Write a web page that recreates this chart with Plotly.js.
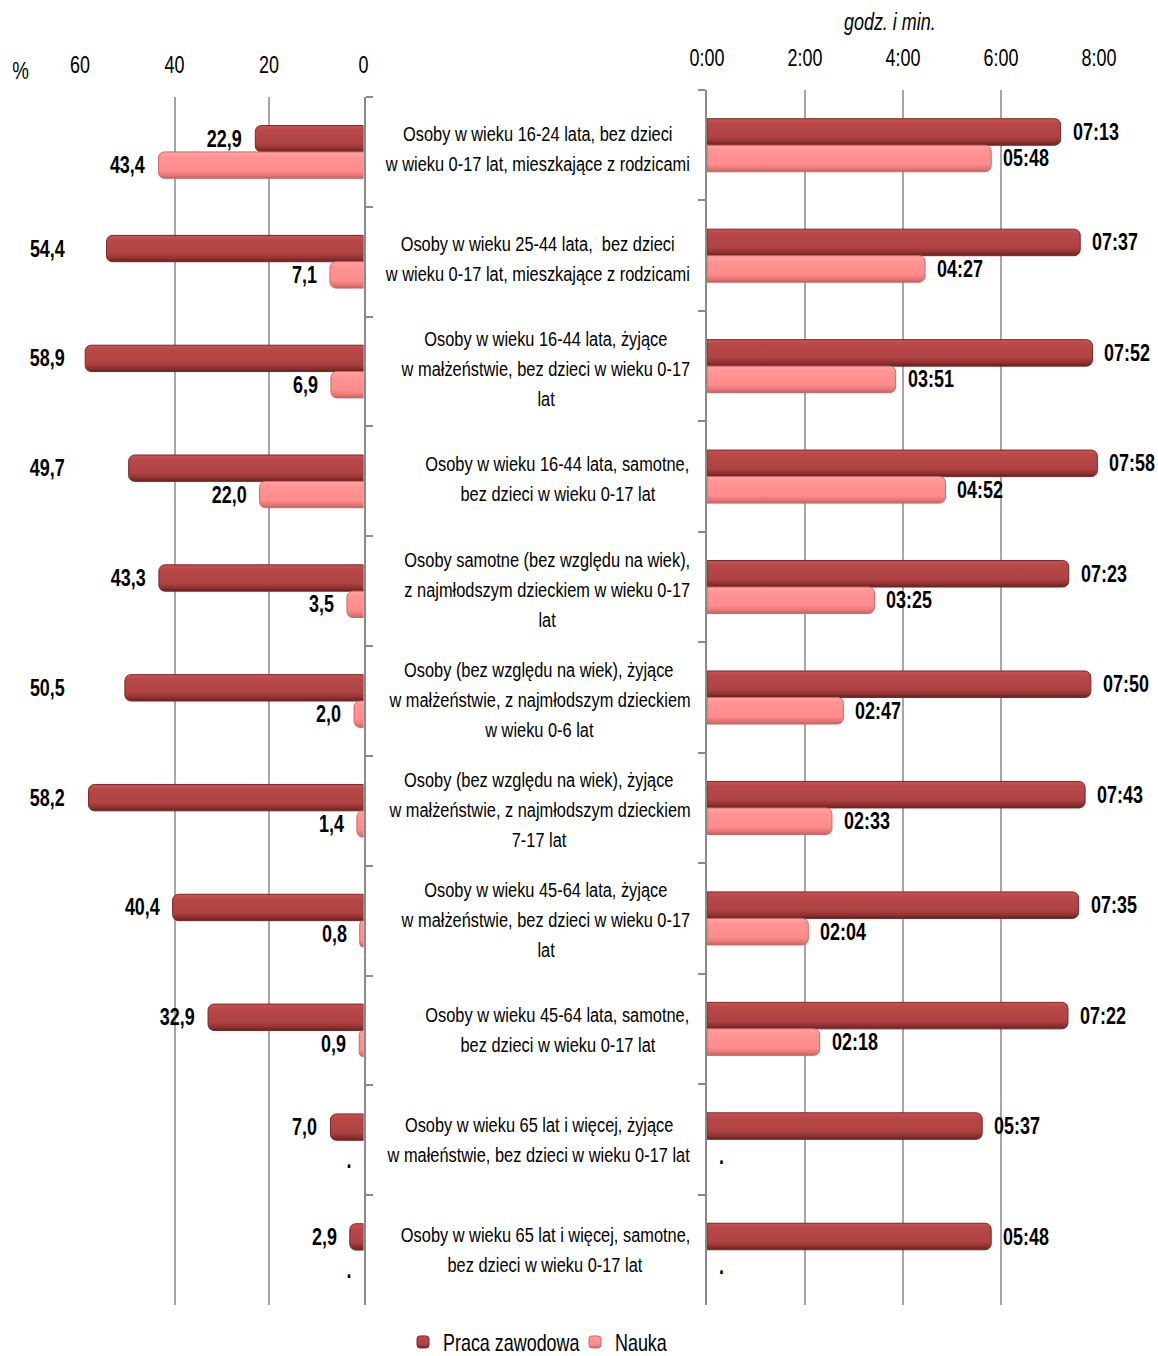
<!DOCTYPE html>
<html>
<head>
<meta charset="utf-8">
<script src="https://cdn.plot.ly/plotly-3.0.1.min.js"></script>
<style>
  html, body { margin: 0; padding: 0; background: #fff; }
  #chart { width: 1158px; height: 1356px; }
</style>
</head>
<body>
<div id="chart"></div>
<script>
// ---------- DATA ----------
const categories = [
  "Osoby w wieku 16-24 lata, bez dzieci\nw wieku 0-17 lat, mieszkające z rodzicami",
  "Osoby w wieku 25-44 lata,  bez dzieci\nw wieku 0-17 lat, mieszkające z rodzicami",
  "Osoby w wieku 16-44 lata, żyjące\nw małżeństwie, bez dzieci w wieku 0-17\nlat",
  "Osoby w wieku 16-44 lata, samotne,\nbez dzieci w wieku 0-17 lat",
  "Osoby samotne (bez względu na wiek),\nz najmłodszym dzieckiem w wieku 0-17\nlat",
  "Osoby (bez względu na wiek), żyjące\nw małżeństwie, z najmłodszym dzieckiem\nw wieku 0-6 lat",
  "Osoby (bez względu na wiek), żyjące\nw małżeństwie, z najmłodszym dzieckiem\n7-17 lat",
  "Osoby w wieku 45-64 lata, żyjące\nw małżeństwie, bez dzieci w wieku 0-17\nlat",
  "Osoby w wieku 45-64 lata, samotne,\nbez dzieci w wieku 0-17 lat",
  "Osoby w wieku 65 lat i więcej, żyjące\nw małeństwie, bez dzieci w wieku 0-17 lat",
  "Osoby w wieku 65 lat i więcej, samotne,\nbez dzieci w wieku 0-17 lat"
];
const seriesNames = ["Praca zawodowa", "Nauka"];
const pracaPct = [22.9, 54.4, 58.9, 49.7, 43.3, 50.5, 58.2, 40.4, 32.9, 7.0, 2.9];
const naukaPct = [43.4, 7.1, 6.9, 22.0, 3.5, 2.0, 1.4, 0.8, 0.9, null, null];
const pracaTime = ["07:13", "07:37", "07:52", "07:58", "07:23", "07:50", "07:43", "07:35", "07:22", "05:37", "05:48"];
const naukaTime = ["05:48", "04:27", "03:51", "04:52", "03:25", "02:47", "02:33", "02:04", "02:18", null, null];
const pctTickVals = [60, 40, 20, 0];
const timeTickVals = [0, 120, 240, 360, 480];
const timeTickText = ["0:00", "2:00", "4:00", "6:00", "8:00"];

// ---------- HELPERS ----------
const W = 1158, H = 1356;
const FONT = '"Liberation Sans", Arial, sans-serif';
const SX = 0.78; // horizontal text compression (condensed look of the original)
const toMin = s => { if (s == null) return null; const p = s.split(":"); return (+p[0]) * 60 + (+p[1]); };
const fmtPct = v => v.toFixed(1).replace(".", ",");
const px = x => x / W;
const py = y => 1 - y / H;

const pracaMin = pracaTime.map(toMin);
const naukaMin = naukaTime.map(toMin);
const yCats = categories.map((c, i) => "c" + i);

const DARK = "#B24444", DARK_LINE = "#7A2727";
const LIGHT = "#FF8E8E", LIGHT_LINE = "#CF6666";

const traces = [
  { type: "bar", orientation: "h", name: seriesNames[0], x: pracaPct, y: yCats, xaxis: "x", yaxis: "y",
    marker: { color: DARK, line: { color: DARK_LINE, width: 1 }, cornerradius: 6 }, hoverinfo: "skip" },
  { type: "bar", orientation: "h", name: seriesNames[1], x: naukaPct, y: yCats, xaxis: "x", yaxis: "y",
    marker: { color: LIGHT, line: { color: LIGHT_LINE, width: 1 }, cornerradius: 6 }, hoverinfo: "skip" },
  { type: "bar", orientation: "h", name: seriesNames[0], x: pracaMin, y: yCats, xaxis: "x2", yaxis: "y2", showlegend: false,
    marker: { color: DARK, line: { color: DARK_LINE, width: 1 }, cornerradius: 6 }, hoverinfo: "skip" },
  { type: "bar", orientation: "h", name: seriesNames[1], x: naukaMin, y: yCats, xaxis: "x2", yaxis: "y2", showlegend: false,
    marker: { color: LIGHT, line: { color: LIGHT_LINE, width: 1 }, cornerradius: 6 }, hoverinfo: "skip" }
];

// ---------- ANNOTATIONS ----------
const ann = [];
const catFontSize = 21;
const canvas = document.createElement("canvas");
const ctx = canvas.getContext("2d");
ctx.font = catFontSize + "px " + FONT;
const LABEL_RIGHT = 690, LINE_H = 30;
const L_TOP = 97, R_TOP = 90, BOT = 1305;
categories.forEach((c, i) => {
  const lines = c.split("\n");
  const maxW = Math.max(...lines.map(l => ctx.measureText(l).width)) * SX;
  const cx = LABEL_RIGHT - maxW / 2;
  const n = lines.length;
  const frac = (i + 0.5) / categories.length;
  const cy = ((L_TOP + frac * (BOT - L_TOP)) + (R_TOP + frac * (BOT - R_TOP))) / 2;
  lines.forEach((l, j) => {
    ann.push({ xref: "paper", yref: "paper", x: px(cx), y: py(cy + (j - (n - 1) / 2) * LINE_H),
      xanchor: "center", yanchor: "middle", text: l, showarrow: false,
      font: { family: FONT, size: catFontSize, color: "#000" } });
  });
});

const OFF = 0.12;
const lblFont = { family: FONT, size: 23, color: "#000" };
pracaPct.forEach((v, i) => {
  const clamp = v > 45;
  ann.push({ xref: "x", yref: "y", x: clamp ? 60 : v, y: i - OFF, xanchor: "right", yanchor: "middle",
    xshift: clamp ? -13 : -11, text: "<b>" + fmtPct(v) + "</b>", showarrow: false, font: lblFont });
});
naukaPct.forEach((v, i) => {
  ann.push({ xref: "x", yref: "y", x: v == null ? 0 : v, y: i + OFF, xanchor: "right", yanchor: "middle",
    xshift: -11, yshift: v == null ? -7 : 0,
    text: "<b>" + (v == null ? "." : fmtPct(v)) + "</b>", showarrow: false, font: lblFont });
});
pracaMin.forEach((v, i) => {
  ann.push({ xref: "x2", yref: "y2", x: v, y: i - OFF, xanchor: "left", yanchor: "middle",
    xshift: 10, text: "<b>" + pracaTime[i] + "</b>", showarrow: false, font: lblFont });
});
naukaMin.forEach((v, i) => {
  ann.push({ xref: "x2", yref: "y2", x: v == null ? 0 : v, y: i + OFF, xanchor: "left", yanchor: "middle",
    xshift: 10, yshift: v == null ? -3 : 0,
    text: "<b>" + (v == null ? "." : naukaTime[i]) + "</b>", showarrow: false, font: lblFont });
});
ann.push({ xref: "paper", yref: "paper", x: px(20), y: py(70), xanchor: "center", yanchor: "middle",
  text: "%", showarrow: false, font: { family: FONT, size: 24, color: "#000" } });
ann.push({ xref: "paper", yref: "paper", x: px(890), y: py(22), xanchor: "center", yanchor: "middle",
  text: "<i>godz. i min.</i>", showarrow: false, font: { family: FONT, size: 23, color: "#000" } });

// ---------- LAYOUT ----------
const GRID = "#A6A6A6", AXIS = "#8A8A8A";
const layout = {
  width: W, height: H,
  margin: { l: 0, r: 0, t: 0, b: 0, autoexpand: false },
  paper_bgcolor: "#fff", plot_bgcolor: "rgba(0,0,0,0)",
  font: { family: FONT, size: 22, color: "#000" },
  barmode: "group", bargap: 0.52, bargroupgap: 0,
  showlegend: true,
  legend: { orientation: "h", x: px(403), xanchor: "left", y: py(1342), yanchor: "middle",
    font: { family: FONT, size: 23, color: "#000" }, itemwidth: 30, entrywidth: 127,
    tracegroupgap: 0, traceorder: "normal" },
  xaxis: { domain: [px(80), px(363.5)], range: [60, 0], side: "top", anchor: "y",
    tickvals: pctTickVals, ticks: "", showgrid: true, gridcolor: GRID, gridwidth: 2,
    zeroline: false, showline: false, ticklabelstandoff: 18, tickfont: { size: 23 }, fixedrange: true },
  yaxis: { domain: [py(BOT), py(L_TOP)], anchor: "x", side: "right", type: "category",
    autorange: "reversed", showticklabels: false, showgrid: false, zeroline: false,
    showline: true, linecolor: AXIS, linewidth: 2, ticks: "outside", ticklen: 7, tickwidth: 2,
    tickcolor: AXIS, tickson: "boundaries", fixedrange: true },
  xaxis2: { domain: [px(707), px(1099)], range: [0, 480], side: "top", anchor: "y2",
    tickvals: timeTickVals, ticktext: timeTickText, ticks: "", showgrid: true, gridcolor: GRID, gridwidth: 2,
    zeroline: false, showline: false, ticklabelstandoff: 18, tickfont: { size: 23 }, fixedrange: true },
  yaxis2: { domain: [py(BOT), py(R_TOP)], anchor: "x2", side: "left", type: "category",
    autorange: "reversed", showticklabels: false, showgrid: false, zeroline: false,
    showline: true, linecolor: AXIS, linewidth: 2, ticks: "outside", ticklen: 7, tickwidth: 2,
    tickcolor: AXIS, tickson: "boundaries", fixedrange: true },
  annotations: ann
};

// ---------- POST-STYLING (condensed text, cylinder shading) ----------
function squeeze(t, anchor) {
  const bb = t.getBBox();
  const ox = anchor === "right" ? bb.x + bb.width : (anchor === "left" ? bb.x : bb.x + bb.width / 2);
  const orig = t.getAttribute("transform") || "";
  t.setAttribute("transform", orig + " translate(" + ox + ",0) scale(" + SX + ",1) translate(" + (-ox) + ",0)");
}
function addGradient(svg, id, stops) {
  const NS = "http://www.w3.org/2000/svg";
  let defs = svg.querySelector("defs");
  if (!defs) { defs = document.createElementNS(NS, "defs"); svg.insertBefore(defs, svg.firstChild); }
  const g = document.createElementNS(NS, "linearGradient");
  g.setAttribute("id", id);
  g.setAttribute("x1", "0"); g.setAttribute("y1", "0"); g.setAttribute("x2", "0"); g.setAttribute("y2", "1");
  stops.forEach(s => {
    const st = document.createElementNS(NS, "stop");
    st.setAttribute("offset", s[0]); st.setAttribute("stop-color", s[1]);
    g.appendChild(st);
  });
  defs.appendChild(g);
}
function postStyle(gd) {
  gd.querySelectorAll("g.annotation").forEach(g => {
    const a = ann[+g.getAttribute("data-index")];
    const t = g.querySelector("text.annotation-text");
    if (t && a) squeeze(t, a.xanchor);
  });
  gd.querySelectorAll("text.legendtext").forEach(t => squeeze(t, "left"));
  gd.querySelectorAll("g.xtick text, g.x2tick text").forEach(t => squeeze(t, "center"));

  const svg = gd.querySelector("svg.main-svg");
  addGradient(svg, "gradDark", [["0", "#C85454"], ["0.18", "#B84848"], ["0.7", "#AE4242"], ["0.88", "#8E3030"], ["1", "#6A1F1F"]]);
  addGradient(svg, "gradLight", [["0", "#FFA6A6"], ["0.2", "#FF9494"], ["0.72", "#FF8B8B"], ["0.9", "#E27474"], ["1", "#C65E5E"]]);
  gd.querySelectorAll("g.trace.bars").forEach(g => {
    const cd = g.__data__;
    const tr = cd && cd[0] && cd[0].trace;
    if (!tr) return;
    const grad = (tr.index % 2 === 0) ? "url(#gradDark)" : "url(#gradLight)";
    g.querySelectorAll("path").forEach(p => { p.style.fill = grad; });
  });
  gd.querySelectorAll("g.legend g.traces").forEach((g, k) => {
    const grad = k === 0 ? "url(#gradDark)" : "url(#gradLight)";
    g.querySelectorAll(".legendpoints path").forEach(p => { p.style.fill = grad; });
  });
}

Plotly.newPlot("chart", traces, layout, { displayModeBar: false, staticPlot: true })
  .then(gd => postStyle(gd));
</script>
</body>
</html>
